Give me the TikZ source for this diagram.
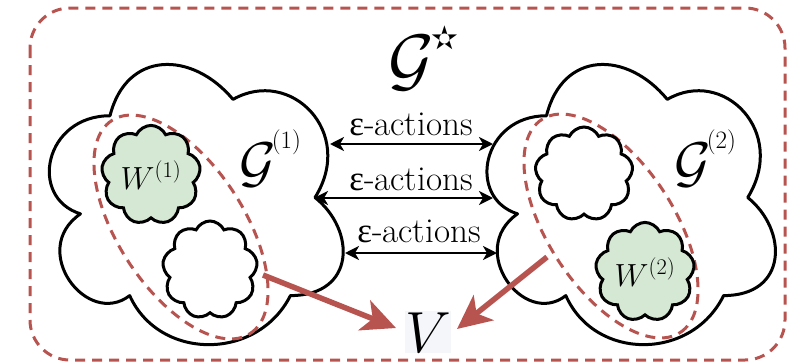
\RequirePackage{fix-cm}
\documentclass[tikz,border=0pt]{standalone}
\usepackage{fontspec}
\newfontfamily\epsfont{Liberation Serif}
\newfontfamily\starfont{DejaVu Sans}
\usetikzlibrary{shapes.symbols,arrows.meta}
\definecolor{redline}{HTML}{B85450}
\definecolor{greenfill}{HTML}{D5E8D4}
\definecolor{vbg}{HTML}{F4F6F9}
\begin{document}
\begin{tikzpicture}[x=1pt,y=-1pt,
  font=\fontsize{32}{37}\selectfont,
  outline/.style={draw=black, line width=3pt, line join=round, fill=white},
  reddash/.style={draw=redline, line width=3pt, dash pattern=on 10pt off 7pt},
  smallcloud/.style={cloud, cloud puffs=9, cloud puff arc=130, draw=black, line width=3pt, inner sep=0pt},
  biarrow/.style={line width=2.6pt, {Stealth[length=14pt,width=14pt,inset=4pt]}-{Stealth[length=14pt,width=14pt,inset=4pt]}},
  redarrow/.style={draw=redline, line width=5.5pt, -{Stealth[length=34pt,width=32pt,inset=9pt]}},
  lbl/.style={inner sep=0pt, anchor=base},
  actlbl/.style={lbl, font=\fontsize{35}{40}\selectfont}
]
\useasboundingbox (0,0) rectangle (787,362);
% outer dashed frame
\draw[reddash, rounded corners=40pt] (30,8) rectangle (785,360);
% big clouds
\draw[outline, shift={(28,34)}, xscale=328, yscale=327]
  (0.25,0.25) .. controls (0.05,0.25) and (0,0.5) .. (0.16,0.55)
  .. controls (0,0.66) and (0.18,0.9) .. (0.31,0.8)
  .. controls (0.4,1) and (0.7,1) .. (0.8,0.8)
  .. controls (1,0.8) and (1,0.6) .. (0.875,0.5)
  .. controls (1,0.3) and (0.8,0.1) .. (0.625,0.2)
  .. controls (0.5,0.05) and (0.3,0.05) .. (0.25,0.25) -- cycle;
\draw[outline, shift={(466,34)}, xscale=322, yscale=327]
  (0.25,0.25) .. controls (0.05,0.25) and (0,0.5) .. (0.16,0.55)
  .. controls (0,0.66) and (0.18,0.9) .. (0.31,0.8)
  .. controls (0.4,1) and (0.7,1) .. (0.8,0.8)
  .. controls (1,0.8) and (1,0.6) .. (0.875,0.5)
  .. controls (1,0.3) and (0.8,0.1) .. (0.625,0.2)
  .. controls (0.5,0.05) and (0.3,0.05) .. (0.25,0.25) -- cycle;
% dashed ellipses
\draw[reddash, rotate around={-57:(181,227)}] (181,227) ellipse [x radius=127pt, y radius=63pt];
\draw[reddash, rotate around={-57:(611,226)}] (611,226) ellipse [x radius=127pt, y radius=63pt];
% small clouds
\node[smallcloud, fill=greenfill, minimum width=98pt, minimum height=94pt] (w1) at (151,175) {$W^{(1)}$};
\node[smallcloud, fill=white, minimum width=95pt, minimum height=98pt] (c1) at (210,270) {};
\node[smallcloud, fill=white, minimum width=98pt, minimum height=94pt] (c2) at (584,174) {};
\node[smallcloud, fill=greenfill, minimum width=95pt, minimum height=98pt] (w2) at (645,272) {$W^{(2)}$};
% labels
\node[lbl, anchor=base west] (gstar) at (388,83) {{\fontsize{70}{70}\selectfont$\mathcal{G}$}\hspace{-2pt}\raisebox{34pt}{\fontsize{32}{32}\selectfont\starfont ✫}};
\node[lbl, anchor=base west] (g1) at (239,181) {{\fontsize{56}{56}\selectfont$\mathcal{G}$}\hspace{-4pt}\raisebox{33pt}{\fontsize{25}{25}\selectfont(1)}};
\node[lbl, anchor=base west] (g2) at (674,181) {{\fontsize{56}{56}\selectfont$\mathcal{G}$}\hspace{-4pt}\raisebox{33pt}{\fontsize{25}{25}\selectfont(2)}};
\node[actlbl] (e1) at (411,135) {{\epsfont ε}-actions};
\node[actlbl] (e2) at (411,190) {{\epsfont ε}-actions};
\node[actlbl] (e3) at (419,242) {{\epsfont ε}-actions};
\node[lbl, fill=vbg, inner ysep=1pt, inner xsep=0pt, font=\fontsize{58}{58}\selectfont] (V) at (428,352) {$V$};
% black double arrows
\coordinate (l1) at (330,144); \coordinate (r1) at (493,144);
\coordinate (l2) at (314,198); \coordinate (r2) at (493,198);
\coordinate (l3) at (345,253); \coordinate (r3) at (497,253);
\draw[biarrow] (l1) -- (r1);
\draw[biarrow] (l2) -- (r2);
\draw[biarrow] (l3) -- (r3);
% red arrows
\coordinate (s1) at (263,275); \coordinate (t1) at (396,328);
\coordinate (s2) at (547,257); \coordinate (t2) at (457,329);
\draw[redarrow] (s1) -- (t1);
\draw[redarrow] (s2) -- (t2);
\end{tikzpicture}
\end{document}
